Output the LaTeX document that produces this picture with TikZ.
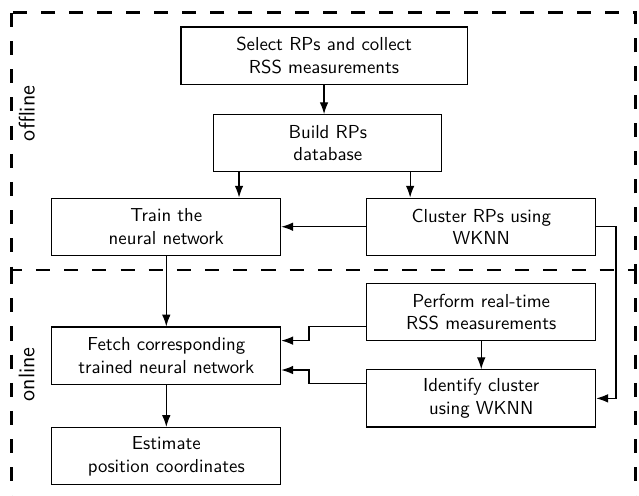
\documentclass[tikz,border=0pt]{standalone}
\usepackage{tikz}
\usetikzlibrary{arrows.meta,positioning}
\tikzset{
  >={Latex[length=2.2mm,width=1.6mm]},
  box/.style={draw,semithick,minimum width=4.28cm,minimum height=1.07cm,
    align=center,font=\sffamily,inner sep=2pt},
  flow/.style={->,semithick},
  phase/.style={draw,line width=1.5pt,dash pattern=on 7.5pt off 7.5pt},
  tag/.style={font=\sffamily\large,rotate=90},
}
\begin{document}
\begin{tikzpicture}
    \useasboundingbox (0,0) rectangle (11.95,-9.275);
    % the two phases
    \draw[phase] (0.21,-0.24) rectangle (11.89,-5.05);
    \draw[phase] (0.21,-5.05) -- (0.21,-9.6) (11.89,-5.05) -- (11.89,-9.6);
    \node[tag] (off) at (0.50,-2.12) {offline};
    \node[tag] (on) at (0.50,-7.00) {online};
    % offline steps
    \node[box,minimum width=5.35cm] (sel) at (6.06,-1.04) {Select RPs and collect\\RSS measurements};
    \node[box,minimum width=4.26cm] (db) at (6.13,-2.68) {Build RPs\\database};
    \node[box] (train) at (3.11,-4.24) {Train the\\neural network};
    \node[box] (clus) at (9.00,-4.24) {Cluster RPs using\\WKNN};
    % online steps
    \node[box] (perf) at (9.00,-5.84) {Perform real-time\\RSS measurements};
    \node[box] (ident) at (9.00,-7.45) {Identify cluster\\using WKNN};
    \node[box] (fetch) at (3.11,-6.65) {Fetch corresponding\\trained neural network};
    \node[box] (est) at (3.11,-8.53) {Estimate\\position coordinates};
    \draw[flow] (sel) -- (sel|-db.north);
    \draw[flow] ([xshift=-1.66cm]db.south) -- ([xshift=-1.66cm]db.south |- train.north);
    \draw[flow] ([xshift=1.54cm]db.south) -- ([xshift=1.54cm]db.south |- clus.north);
    \draw[flow] (clus) -- (train);
    \draw[flow] (clus.east) -- ++(0.37,0) |- (ident.east);
    \draw[flow] (train) -- (fetch);
    \draw[flow] (fetch) -- (est);
    \draw[flow] (perf) -- (ident);
    \draw[flow] ([yshift=-0.27cm]perf.west) -- ++(-1.07,0) |- ([yshift=0.28cm]fetch.east);
    \draw[flow] ([yshift=0.27cm]ident.west) -- ++(-1.07,0) |- ([yshift=-0.27cm]fetch.east);
\end{tikzpicture}
\end{document}
